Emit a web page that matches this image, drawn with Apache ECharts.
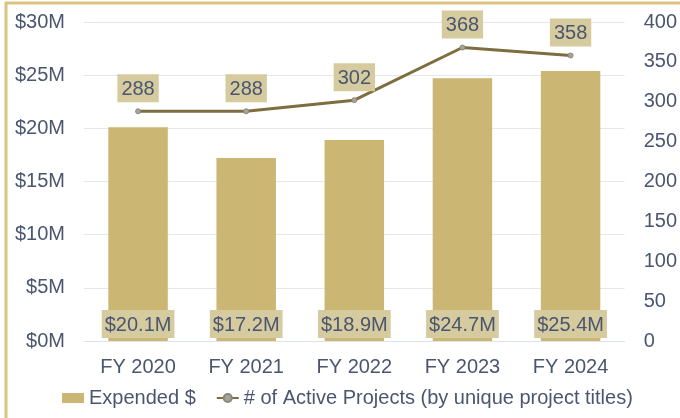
<!DOCTYPE html>
<html><head><meta charset="utf-8">
<script src="https://cdn.jsdelivr.net/npm/echarts@6/dist/echarts.min.js"></script>
<style>html,body{margin:0;padding:0;background:#fff}#c{width:680px;height:418px}</style>
</head><body><div id="c"></div>
<script>
const categories = ['FY 2020','FY 2021','FY 2022','FY 2023','FY 2024'];
const expended = [20.1, 17.2, 18.9, 24.7, 25.4];
const activeProjects = [288, 288, 302, 368, 358];
const barName = 'Expended $';
const lineName = '# of Active Projects (by unique project titles)';

const chart = echarts.init(document.getElementById('c'), null, {renderer:'canvas'});
const txt = '#4a5670';
const font = 'Helvetica, "Liberation Sans", Arial, sans-serif';
chart.setOption({
  animation:false,
  textStyle:{fontFamily:font},
  graphic:[{type:'rect',shape:{x:6,y:3,width:720,height:500},style:{fill:'none',stroke:'#dcc27f',lineWidth:3},silent:true}],
  grid:{left:84,right:55,top:22,bottom:77},
  legend:{bottom:5,left:57,itemGap:20,textStyle:{color:txt,fontSize:20,fontFamily:font},
    data:[{name:barName,icon:'rect',itemStyle:{color:'#cbb673'}},{name:lineName}],
    itemWidth:22,itemHeight:10},
  xAxis:{type:'category',data:categories,axisTick:{show:false},
    axisLine:{lineStyle:{color:'#dde3ea',width:1}},
    axisLabel:{color:txt,fontSize:20,margin:16,fontFamily:font}},
  yAxis:[
    {type:'value',min:0,max:30,interval:5,
     axisLabel:{formatter:v=>'$'+v+'M',color:txt,fontSize:20,margin:19,fontFamily:font},
     splitLine:{lineStyle:{color:'#e3e8ee'}},axisLine:{show:false},axisTick:{show:false}},
    {type:'value',min:0,max:400,interval:50,
     axisLabel:{color:txt,fontSize:20,margin:19,fontFamily:font},
     splitLine:{show:false},axisLine:{show:false},axisTick:{show:false}}
  ],
  series:[
    {name:barName,type:'bar',data:expended,barWidth:'55%',yAxisIndex:0,
     itemStyle:{color:'#cbb673'},
     label:{show:true,position:'insideBottom',distance:3,formatter:p=>'$'+p.value.toFixed(1)+'M',
       color:txt,fontSize:20,fontFamily:font,backgroundColor:'#d6ca9f',padding:[5,3,3,3]}},
    {name:lineName,type:'line',data:activeProjects,yAxisIndex:1,
     lineStyle:{color:'#7d6d3f',width:3},itemStyle:{color:'#a8a49a',borderColor:'#8a8678',borderWidth:1},
     symbol:'circle',symbolSize:5,
     label:{show:true,position:'top',distance:6,color:txt,fontSize:20,fontFamily:font,
       backgroundColor:'#d6ca9f',padding:[5,4,3,4]}}
  ]
});
</script></body></html>
